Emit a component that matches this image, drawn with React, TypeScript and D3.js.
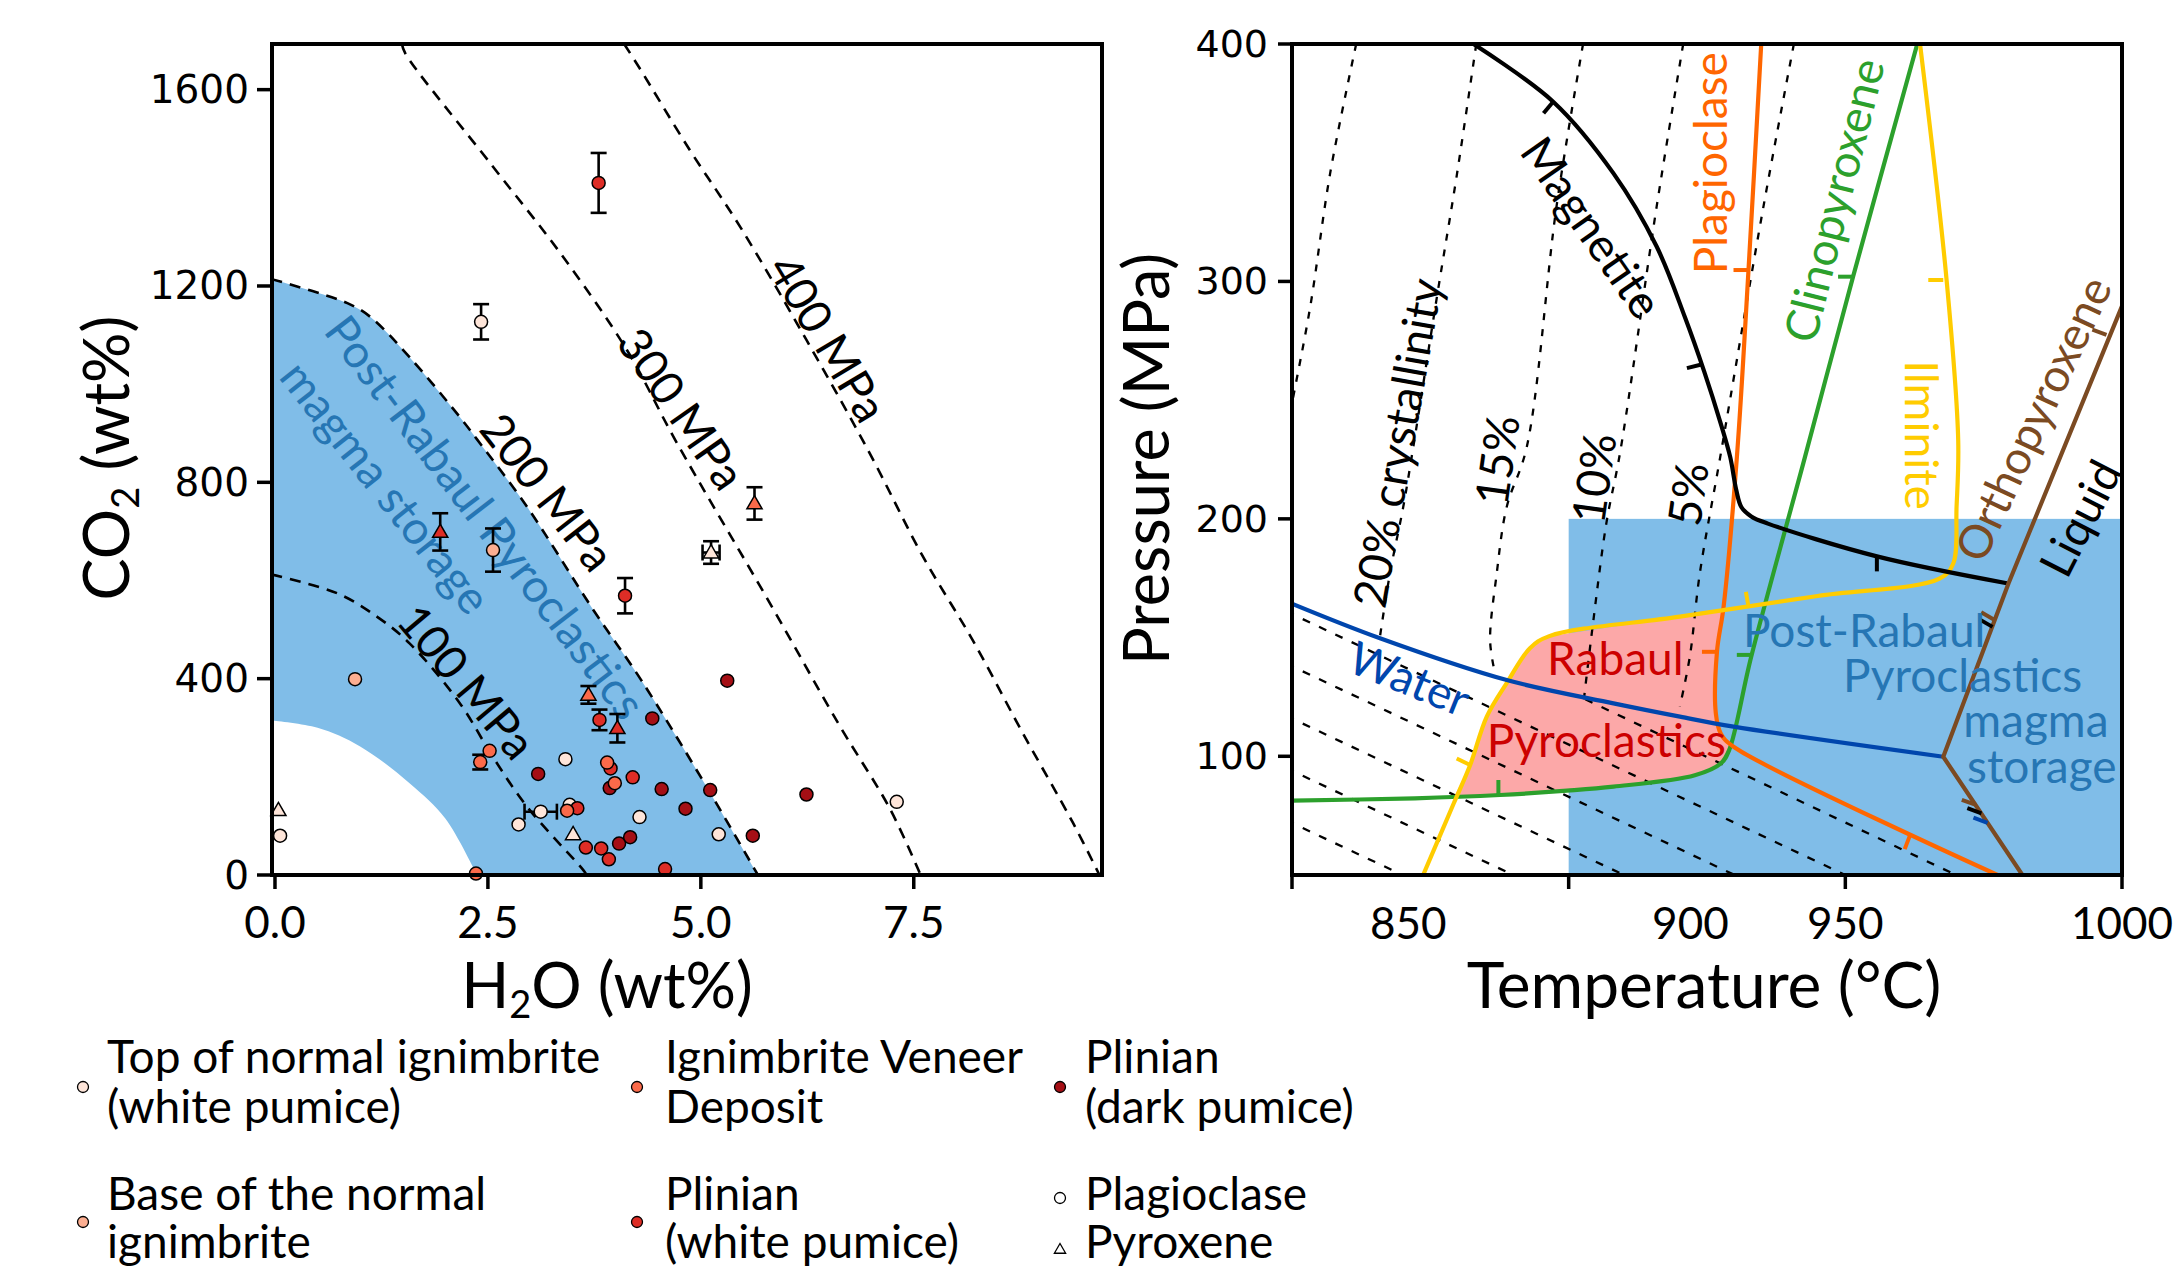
import React from 'react';
import * as d3 from 'd3';

type XY = [number, number];
// melt inclusion: [H2O wt%, CO2 ppm, CO2 error, H2O error]
type MI = number[];

const FONT = "Lato, 'Open Sans', Arial, sans-serif";
const NUM_FONT = "'DejaVu Sans', Verdana, sans-serif";

// ---------- left panel: H2O - CO2 ----------
const h2oTicks = [0, 2.5, 5, 7.5];
const h2oTickLabels = ['0.0', '2.5', '5.0', '7.5'];
const co2Ticks = [0, 400, 800, 1200, 1600];

const isobar100: XY[] = [[-0.04, 612], [0.73, 574], [1.2, 526], [1.58, 472], [2.17, 350], [2.56, 240], [2.96, 139], [3.62, 10], [3.66, 0]];
const isobar200: XY[] = [[-0.04, 1214], [0.85, 1165], [1.12, 1137], [1.58, 1055], [2.17, 933], [2.37, 888], [2.96, 750], [3.73, 542], [4.3, 397], [5.07, 179], [5.67, 0]];
const isobar300: XY[] = [[1.49, 1693], [1.53, 1674], [2.56, 1443], [3.35, 1267], [4.13, 1070], [4.7, 886], [5.81, 554], [6.63, 304], [7.22, 135], [7.58, 0]];
const isobar400: XY[] = [[4.1, 1693], [4.28, 1644], [4.87, 1477], [5.46, 1321], [6.24, 1090], [6.98, 860], [7.61, 648], [8.19, 479], [8.78, 289], [9.37, 106], [9.68, 0]];
const storageLowerEdge: XY[] = [[-0.04, 315], [0.5, 300], [1.0, 262], [1.58, 187], [2.0, 115], [2.37, 0]];

const topIgnPlag: MI[] = [[2.42, 1127, 36], [3.46, 143], [3.41, 236], [3.12, 129, 0, 0.19], [2.86, 103], [4.28, 118], [5.21, 83], [7.3, 149], [0.06, 80]];
const topIgnPx: MI[] = [[0.04, 132], [3.5, 83], [5.12, 657, 23, 0.1]];
const baseIgnPlag: MI[] = [[2.56, 662, 44], [0.94, 399]];
const veneerPlag: MI[] = [[2.52, 253], [2.41, 230, 15], [3.9, 229], [3.99, 187], [3.43, 131], [2.36, 3]];
const veneerPx: MI[] = [[3.68, 367, 18], [5.63, 757, 33]];
const plinWhitePlag: MI[] = [[3.8, 1410, 61], [4.11, 569, 36], [3.81, 316, 21], [3.94, 217], [4.2, 199], [3.55, 136], [3.65, 56], [3.83, 54], [3.92, 32], [4.58, 12]];
const plinWhitePx: MI[] = [[1.94, 699, 38], [4.02, 299, 29]];
const plinDarkPlag: MI[] = [[4.43, 319], [3.09, 206], [3.93, 177], [4.54, 175], [5.31, 396], [5.11, 173], [4.82, 135], [5.61, 80], [6.24, 164], [4.04, 64], [4.17, 77]];

const legendNames = [
  ['Top of normal ignimbrite', '(white pumice)'],
  ['Base of the normal', 'ignimbrite'],
  ['Ignimbrite Veneer', 'Deposit'],
  ['Plinian', '(white pumice)'],
  ['Plinian', '(dark pumice)'],
];
const hostNames = ['Plagioclase', 'Pyroxene'];

// ---------- right panel: P - T ----------
const tempTicks = [850, 900, 950, 1000];
const tempTickLabels = ['850', '900', '950', '1000'];
const tempLabelAt = [871, 922, 950, 1000]; // labels sit off their ticks in the original
const pressureTicks = [100, 200, 300, 400];

const storageT = [900, 1000];
const storageP = [50, 200];

const magnetite: XY[] = [[882.8, 400], [897.2, 375.7], [908.1, 345.5], [915.9, 314.7], [921, 285], [924.5, 262], [927.5, 240], [929.2, 226], [930.3, 212], [931.2, 205], [933, 201], [936, 198], [955.7, 184.2], [979.2, 172.9]];
const plagioclase: XY[] = [[934.8, 400], [932.5, 304.8], [930.4, 226], [928, 163], [926.8, 144], [926.6, 118], [927.5, 109.5], [929.8, 104], [977.5, 50]];
const clinopyroxene: XY[] = [[963, 400], [951.4, 302], [942.7, 226], [933, 142], [929, 102.6], [927.5, 97], [922.8, 92], [908.1, 87.2], [899.7, 85.5], [887.6, 83.7], [872.2, 82.3], [849, 81.3]];
const ilmenite: XY[] = [[873.7, 50], [879.2, 80], [882.2, 96.3], [885.2, 116.7], [888.8, 130.8], [893, 145.5], [896.5, 150.6], [920.1, 158.8], [945, 167.5], [967.1, 174.9], [969.5, 181.2], [970.1, 205], [970.4, 233], [968.3, 300.6], [963.5, 400]];
const orthopyroxene: XY[] = [[1002, 301], [979.5, 172.9], [967.7, 99.8], [982, 50]];
const water: XY[] = [[849, 165.2], [865.9, 149.7], [888.8, 132.1], [908.1, 122.3], [920.1, 116.7], [929.8, 112.5], [967.7, 99.8]];
const rabaulRegion: XY[] = [[879.2, 82.5], [882.2, 96.3], [885.2, 116.7], [888.8, 130.8], [893, 145.5], [896.5, 150.6], [920.1, 158.8], [928, 161.6], [926.8, 144], [926.6, 118], [927.5, 109.5], [929.5, 104], [928, 97.5], [922.8, 92], [908.1, 87.2], [899.7, 85.5], [887.6, 83.7]];

const crystUpper: XY[][] = [
  [[861.6, 400], [856.9, 345.6], [853.3, 289.4], [850, 248.6], [849, 236]],
  [[883.3, 400], [879.8, 345], [876.2, 293.6], [871.9, 230], [870.1, 205], [867.7, 177], [865.9, 150.4]],
  [[902.6, 400], [897.8, 331.5], [892.4, 230], [888.8, 205], [887, 177], [885.8, 149], [886.5, 137]],
  [[920.7, 400], [915.9, 331.5], [909.3, 228], [906.8, 198], [904.4, 156], [902.6, 121]],
  [[940.7, 400], [935.2, 331.5], [927.4, 226.2], [923.7, 177], [921.9, 142], [920.1, 121]],
];
const crystLower: XY[][] = [
  [[849, 73], [870, 50]],
  [[849, 95], [890, 50]],
  [[849, 117], [910, 50]],
  [[849, 139], [930, 50]],
  [[849, 161], [950, 50]],
  [[903, 124], [970, 50]],
];

// short ticks on the saturation curves: [T, P, direction in degrees]
const magnetiteTicks = [[897.2, 375.7, 130], [924, 265, 166], [955.7, 184.2, 90], [976.6, 154.5, -150], [974.6, 76, -160]];
const plagTicks = [[932.5, 304.8, 180], [926.8, 144, 180], [961.7, 66.8, 111]];
const cpxTicks = [[951.4, 302, 180], [933.1, 142.7, 180], [887.3, 83.7, -90]];
const ilmTicks = [[967.7, 300.6, 180], [932.5, 163, -100], [882.2, 96.3, -154]];
const opxTicks = [[997.2, 277.5, -160], [976.9, 157.5, -150], [973.6, 79.5, -160]];
const waterTicks = [[975.7, 72, -160]];

const COL = {
  pale: '#fee5d9', base: '#fcae91', veneer: '#fb6a4a', red: '#de2d26', dark: '#a50f15',
  storage: '#80bde8', storageText: '#2676b4', pink: '#fca8a8', rabaulText: '#cc0000',
  plag: '#ff6600', cpx: '#2ca02c', ilm: '#ffcc00', opx: '#7b4a22', water: '#0046ad',
};

export default function App() {
  const xL = d3.scaleLinear().domain([-0.035, 9.71]).range([272, 1102]);
  const yL = d3.scaleLinear().domain([0, 1693]).range([875, 44]);
  const xR = d3.scaleLinear().domain([850, 1000]).range([1292, 2122]);
  const yR = d3.scaleLinear().domain([50, 400]).range([875, 44]);

  const smoothL = d3.line<XY>().x(d => xL(d[0])).y(d => yL(d[1])).curve(d3.curveCatmullRom.alpha(0.5));
  const smoothR = d3.line<XY>().x(d => xR(d[0])).y(d => yR(d[1])).curve(d3.curveCatmullRom.alpha(0.5));
  const straightR = d3.line<XY>().x(d => xR(d[0])).y(d => yR(d[1]));

  const storagePath = smoothL(isobar200) + 'L' + (smoothL([...storageLowerEdge].reverse()) as string).slice(1) + 'Z';
  const tri = d3.symbol().type(d3.symbolTriangle).size(100)() as string;
  const triSmall = d3.symbol().type(d3.symbolTriangle).size(55)() as string;

  const errorBars = (pts: MI[], key: string) =>
    pts.map((p, i) => {
      const cx = xL(p[0]);
      const cy = yL(p[1]);
      const out: any[] = [];
      if (p[2]) {
        const y1 = yL(p[1] + p[2]);
        const y2 = yL(p[1] - p[2]);
        out.push(<line key={key + i + 'v'} x1={cx} x2={cx} y1={y1} y2={y2} />);
        out.push(<line key={key + i + 'vt'} x1={cx - 8} x2={cx + 8} y1={y1} y2={y1} />);
        out.push(<line key={key + i + 'vb'} x1={cx - 8} x2={cx + 8} y1={y2} y2={y2} />);
      }
      if (p[3]) {
        const x1 = xL(p[0] - p[3]);
        const x2 = xL(p[0] + p[3]);
        out.push(<line key={key + i + 'h'} x1={x1} x2={x2} y1={cy} y2={cy} />);
        out.push(<line key={key + i + 'hl'} x1={x1} x2={x1} y1={cy - 8} y2={cy + 8} />);
        out.push(<line key={key + i + 'hr'} x1={x2} x2={x2} y1={cy - 8} y2={cy + 8} />);
      }
      return out;
    });

  const markers = (pts: MI[], fill: string, shape: string, key: string) =>
    pts.map((p, i) =>
      shape === 'circle' ? (
        <circle key={key + i} cx={xL(p[0])} cy={yL(p[1])} r={6.5} fill={fill} stroke="#000" strokeWidth={1.5} />
      ) : (
        <path key={key + i} d={tri} transform={`translate(${xL(p[0])},${yL(p[1]) + 1})`} fill={fill} stroke="#000" strokeWidth={1.5} />
      )
    );

  const tickMarks = (ticks: number[][], color: string, key: string) =>
    ticks.map((t, i) => {
      const a = (t[2] * Math.PI) / 180;
      const x = xR(t[0]);
      const y = yR(t[1]);
      return <line key={key + i} x1={x} y1={y} x2={x + 15 * Math.cos(a)} y2={y + 15 * Math.sin(a)} stroke={color} strokeWidth={4} />;
    });

  const allSeries: [MI[], string, string][] = [
    [topIgnPlag, COL.pale, 'circle'], [topIgnPx, COL.pale, 'tri'],
    [plinDarkPlag, COL.dark, 'circle'],
    [plinWhitePlag, COL.red, 'circle'], [plinWhitePx, COL.red, 'tri'],
    [baseIgnPlag, COL.base, 'circle'],
    [veneerPlag, COL.veneer, 'circle'], [veneerPx, COL.veneer, 'tri'],
  ];

  const legendFills = [COL.pale, COL.base, COL.veneer, COL.red, COL.dark];
  const legendCol = [[83, 107], [83, 107], [637, 665], [637, 665], [1060, 1085]];
  const legendRow = [0, 1, 0, 1, 0];
  const rowBase = [[1073, 1123, 1087], [1210, 1258, 1222]];

  const rotLabel = (x: number, y: number, rot: number, text: string, color: string, size: number, key: string) => (
    <text key={key} transform={`translate(${x},${y}) rotate(${rot})`} textAnchor="middle" dominantBaseline="central" fill={color} fontSize={size}>
      {text}
    </text>
  );

  return (
    <svg width={2183} height={1276} style={{ position: 'absolute', left: 0, top: 0, background: '#fff' }} fontFamily={FONT}>
      <defs>
        <clipPath id="clipL"><rect x={272} y={44} width={830} height={831} /></clipPath>
        <clipPath id="clipR"><rect x={1292} y={44} width={830} height={831} /></clipPath>
      </defs>

      {/* ===== left panel ===== */}
      <g clipPath="url(#clipL)">
        <path d={storagePath} fill={COL.storage} />
        {[isobar100, isobar200, isobar300, isobar400].map((iso, i) => (
          <path key={'iso' + i} d={smoothL(iso) as string} fill="none" stroke="#000" strokeWidth={2.6} strokeDasharray="11 8" />
        ))}
      </g>
      {rotLabel(xL(2.26), yL(395), 50, '100 MPa', '#000', 46, 'l100')}
      {rotLabel(xL(3.21), yL(781), 52, '200 MPa', '#000', 46, 'l200')}
      {rotLabel(xL(4.78), yL(951), 55, '300 MPa', '#000', 46, 'l300')}
      {rotLabel(xL(6.5), yL(1094), 59, '400 MPa', '#000', 46, 'l400')}
      {rotLabel(xL(2.48), yL(730), 52.6, 'Post-Rabaul Pyroclastics', COL.storageText, 46, 'lpr')}
      {rotLabel(xL(1.31), yL(791), 51.7, 'magma storage', COL.storageText, 46, 'lms')}

      <g stroke="#000" strokeWidth={2.6}>
        {allSeries.map(([pts], i) => errorBars(pts, 'e' + i))}
      </g>
      {allSeries.map(([pts, fill, shape], i) => markers(pts, fill, shape, 'm' + i))}

      <rect x={272} y={44} width={830} height={831} fill="none" stroke="#000" strokeWidth={4} />
      {co2Ticks.map(t => (
        <g key={'yt' + t}>
          <line x1={257} x2={272} y1={yL(t)} y2={yL(t)} stroke="#000" strokeWidth={3.5} />
          <text x={249} y={yL(t)} textAnchor="end" dominantBaseline="central" fontFamily={NUM_FONT} fontSize={39}>{t}</text>
        </g>
      ))}
      {h2oTicks.map((t, i) => (
        <g key={'xt' + t}>
          <line x1={xL(t)} x2={xL(t)} y1={875} y2={889} stroke="#000" strokeWidth={3.5} />
          <text x={xL(t)} y={938} textAnchor="middle" fontSize={44}>{h2oTickLabels[i]}</text>
        </g>
      ))}
      <text transform="translate(129,458) rotate(-90)" textAnchor="middle" fontSize={63}>
        CO<tspan fontSize={38} dy={10}>2</tspan><tspan dy={-10}> (wt%)</tspan>
      </text>
      <text x={607} y={1008} textAnchor="middle" fontSize={63}>
        H<tspan fontSize={38} dy={10}>2</tspan><tspan dy={-10}>O (wt%)</tspan>
      </text>

      {/* legend */}
      {legendNames.map((lines, i) => {
        const [mx, tx] = legendCol[i];
        const [b1, b2, my] = rowBase[legendRow[i]];
        return (
          <g key={'lg' + i}>
            <circle cx={mx} cy={my} r={5.5} fill={legendFills[i]} stroke="#000" strokeWidth={1.3} />
            <text x={tx} y={b1} fontSize={46}>{lines[0]}</text>
            <text x={tx} y={b2} fontSize={46}>{lines[1]}</text>
          </g>
        );
      })}
      <circle cx={1060} cy={1198} r={5.5} fill="#fff" stroke="#000" strokeWidth={1.3} />
      <path d={triSmall} transform="translate(1060,1250)" fill="#fff" stroke="#000" strokeWidth={1.3} />
      <text x={1085} y={1210} fontSize={46}>{hostNames[0]}</text>
      <text x={1085} y={1258} fontSize={46}>{hostNames[1]}</text>

      {/* ===== right panel ===== */}
      <g clipPath="url(#clipR)">
        <rect x={xR(storageT[0])} y={yR(storageP[1])} width={xR(storageT[1]) - xR(storageT[0])} height={yR(storageP[0]) - yR(storageP[1])} fill={COL.storage} />
        <path d={straightR(rabaulRegion) + 'Z'} fill={COL.pink} />
        {crystUpper.map((c, i) => (
          <path key={'cu' + i} d={smoothR(c) as string} fill="none" stroke="#000" strokeWidth={2.3} strokeDasharray="7 9" />
        ))}
        {crystLower.map((c, i) => (
          <path key={'cl' + i} d={straightR(c) as string} fill="none" stroke="#000" strokeWidth={2.3} strokeDasharray="8 10" />
        ))}
        <path d={smoothR(clinopyroxene) as string} fill="none" stroke={COL.cpx} strokeWidth={4.2} />
        <path d={smoothR(plagioclase) as string} fill="none" stroke={COL.plag} strokeWidth={4.2} />
        <path d={smoothR(ilmenite) as string} fill="none" stroke={COL.ilm} strokeWidth={4.2} />
        <path d={smoothR(water) as string} fill="none" stroke={COL.water} strokeWidth={4.2} />
        <path d={smoothR(magnetite) as string} fill="none" stroke="#000" strokeWidth={4.2} />
        <path d={straightR(orthopyroxene) as string} fill="none" stroke={COL.opx} strokeWidth={4.2} strokeLinejoin="round" />
        {tickMarks(magnetiteTicks, '#000', 'tm')}
        {tickMarks(plagTicks, COL.plag, 'tp')}
        {tickMarks(cpxTicks, COL.cpx, 'tc')}
        {tickMarks(ilmTicks, COL.ilm, 'ti')}
        {tickMarks(opxTicks, COL.opx, 'to')}
        {tickMarks(waterTicks, COL.water, 'tw')}
      </g>

      {rotLabel(xR(868.9), yR(232), -80, '20% crystallinity', '#000', 46, 'c20')}
      {rotLabel(xR(886.9), yR(224.8), -82, '15%', '#000', 46, 'c15')}
      {rotLabel(xR(904.4), yR(217.2), -82, '10%', '#000', 46, 'c10')}
      {rotLabel(xR(921.4), yR(210.5), -82, '5%', '#000', 46, 'c5')}
      {rotLabel(xR(904.3), yR(323), 55, 'Magnetite', '#000', 46, 'mag')}
      {rotLabel(xR(925.5), yR(349.8), -90, 'Plagioclase', COL.plag, 46, 'plg')}
      {rotLabel(xR(947.8), yR(334.3), -76, 'Clinopyroxene', COL.cpx, 46, 'cpx')}
      {rotLabel(xR(963.9), yR(235.3), 90, 'Ilminite', COL.ilm, 46, 'ilm')}
      {rotLabel(xR(983.8), yR(242.3), -65, 'Orthopyroxene', COL.opx, 46, 'opx')}
      {rotLabel(xR(992.3), yR(200.4), -63, 'Liquid', '#000', 46, 'liq')}
      {rotLabel(xR(871.3), yR(133), 22, 'Water', COL.water, 46, 'wat')}

      <g fontSize={46} fill={COL.rabaulText}>
        <text x={xR(896.1)} y={yR(134.2)}>Rabaul</text>
        <text x={xR(885.2)} y={yR(99.5)}>Pyroclastics</text>
      </g>
      <g fontSize={46} fill={COL.storageText}>
        <text x={xR(931.5)} y={yR(146)}>Post-Rabaul</text>
        <text x={xR(949.6)} y={yR(127.1)}>Pyroclastics</text>
        <text x={xR(971.3)} y={yR(108.1)}>magma</text>
        <text x={xR(972)} y={yR(88.8)}>storage</text>
      </g>

      <rect x={1292} y={44} width={830} height={831} fill="none" stroke="#000" strokeWidth={4} />
      {pressureTicks.map(t => (
        <g key={'pt' + t}>
          <line x1={1278} x2={1292} y1={yR(t)} y2={yR(t)} stroke="#000" strokeWidth={3.5} />
          <text x={1268} y={yR(t)} textAnchor="end" dominantBaseline="central" fontFamily={NUM_FONT} fontSize={38}>{t}</text>
        </g>
      ))}
      {tempTicks.map((t, i) => (
        <g key={'tt' + t}>
          <line x1={xR(t)} x2={xR(t)} y1={875} y2={889} stroke="#000" strokeWidth={3.5} />
          <text x={xR(tempLabelAt[i])} y={939} textAnchor="middle" fontSize={44}>{tempTickLabels[i]}</text>
        </g>
      ))}
      <text transform="translate(1169,459) rotate(-90)" textAnchor="middle" fontSize={63}>Pressure (MPa)</text>
      <text x={1704} y={1008} textAnchor="middle" fontSize={64}>Temperature (°C)</text>
    </svg>
  );
}
